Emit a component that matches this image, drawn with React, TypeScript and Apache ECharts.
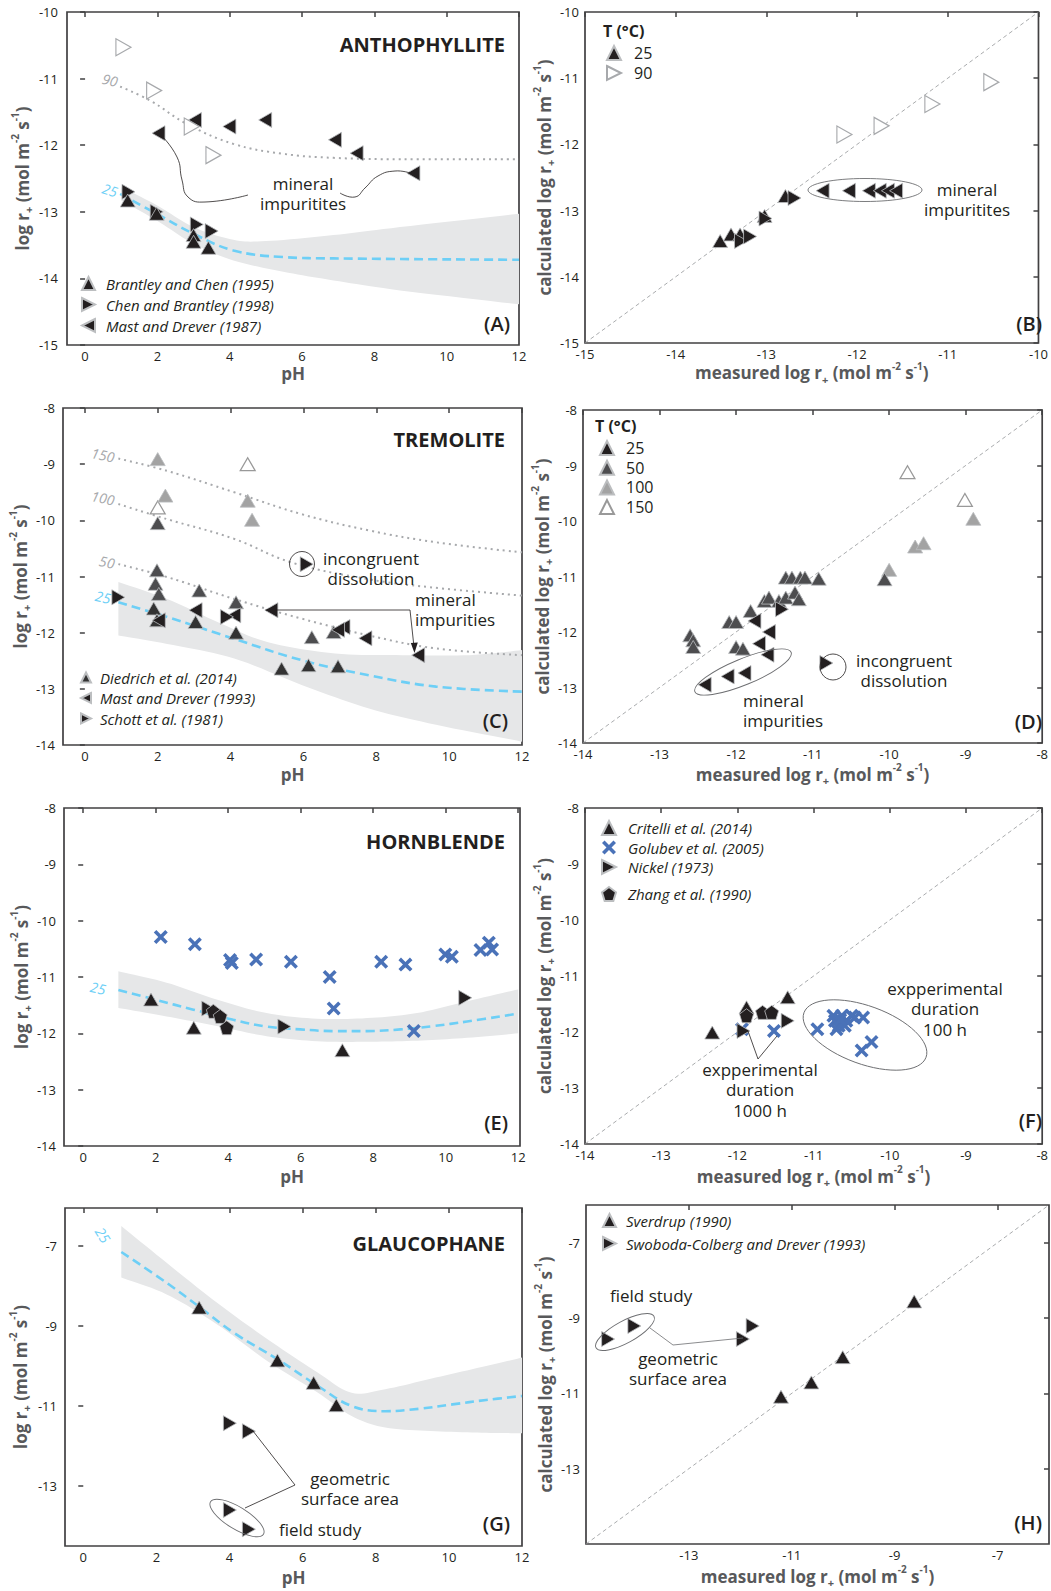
import React, { useEffect, useRef } from 'react';
import * as echarts from 'echarts';

const FONT = '"Open Sans", "Noto Sans", sans-serif';
const INK = '#231f20';
const TITLE_GREY = '#58595b';
const BLUE_LINE = '#6dcff6';
const DOT_GREY = '#a7a9ac';
const BAND = '#e6e7e8';
const DARK = '#4d4d4f';
const LIGHT = '#a3a3a3';
const XBLUE = '#4a72b8';
const HALO = '#bcbec0';
const FRAME = '#414042';

const SYM_UP = 'path://M5,0L10,10L0,10Z';
const SYM_RIGHT = 'path://M0,0L10,5L0,10Z';
const SYM_LEFT = 'path://M10,0L0,5L10,10Z';
const SYM_PENT = 'path://M5,0L10,3.8L8.1,10L1.9,10L0,3.8Z';
const SYM_X = 'path://M0,1.8L1.8,0L5,3.2L8.2,0L10,1.8L6.8,5L10,8.2L8.2,10L5,6.8L1.8,10L0,8.2L3.2,5Z';

// ---- tick values ----
const PH_TICKS = [0, 2, 4, 6, 8, 10, 12];
const A_YT = [-15, -14, -13, -12, -11, -10];
const B_T = [-15, -14, -13, -12, -11, -10];
const CE_YT = [-14, -13, -12, -11, -10, -9, -8];
const DF_T = [-14, -13, -12, -11, -10, -9, -8];
const G_YT = [-13, -11, -9, -7];
const H_T = [-13, -11, -9, -7];

// ---- (A) anthophyllite ----
const A_brantley = [[1.18, -12.83], [1.98, -13.03], [3.0, -13.35], [3.0, -13.45], [3.41, -13.54]];
const A_chen = [[1.2, -12.7], [1.98, -13.0], [3.09, -13.19], [3.5, -13.29]];
const A_mast = [[2.03, -11.82], [3.04, -11.62], [3.99, -11.72], [4.98, -11.62], [6.91, -11.92], [7.51, -12.12], [9.08, -12.42]];
const A_90 = [[1.06, -10.53], [1.91, -11.18], [2.95, -11.72], [3.55, -12.15]];
const A_line90 = [[0.97, -11.12], [1.8, -11.33], [2.81, -11.68], [4.1, -11.98], [5.48, -12.13], [6.87, -12.19], [8.71, -12.21], [12, -12.21]];
const A_line25 = [[0.97, -12.73], [1.98, -13.03], [3.0, -13.33], [4.1, -13.58], [5.48, -13.68], [6.87, -13.7], [12, -13.72]];
const A_bandUp = [[1, -12.63], [1.98, -12.9], [3.0, -13.23], [4.1, -13.42], [5.0, -13.44], [6.87, -13.35], [8.71, -13.23], [12, -13.03]];
const A_bandLo = [[1, -12.83], [1.98, -13.13], [3.0, -13.48], [4.1, -13.73], [5.48, -13.9], [6.87, -14.03], [8.71, -14.18], [12, -14.39]];

// ---- (B) ----
const B_up = [[-13.51, -13.46], [-13.39, -13.36], [-13.29, -13.36], [-13.02, -13.08], [-12.79, -12.78]];
const B_right = [[-13.28, -13.46], [-13.18, -13.39], [-13.01, -13.12], [-12.69, -12.81]];
const B_left = [[-12.38, -12.7], [-12.09, -12.7], [-11.87, -12.7], [-11.75, -12.7], [-11.66, -12.7], [-11.57, -12.7]];
const B_90 = [[-12.14, -11.85], [-11.73, -11.72], [-11.17, -11.39], [-10.52, -11.06]];
const B_diag = [[-15, -15], [-10, -10]];

// ---- (C) tremolite ----
const C_d150 = [[4.47, -9.0], [2.0, -9.77]];
const C_d100 = [[2.0, -8.91], [2.21, -9.56], [4.47, -9.65], [4.59, -9.99]];
const C_d50 = [[2.0, -10.05], [1.98, -10.89], [1.94, -11.13], [2.03, -11.31], [3.14, -11.25], [4.15, -11.46], [6.83, -11.99], [6.23, -12.08]];
const C_d25 = [[1.89, -11.57], [1.98, -11.78], [3.04, -11.81], [4.15, -12.0], [5.4, -12.64], [6.14, -12.58], [6.95, -12.6]];
const C_mast = [[2.03, -11.78], [3.04, -11.6], [4.1, -11.69], [5.12, -11.6], [7.1, -11.9], [6.95, -11.95], [7.7, -12.1], [9.15, -12.4]];
const C_schott = [[0.92, -11.37], [6.09, -10.78], [3.9, -11.72]];
const C_line150 = [[0.92, -8.9], [2.26, -9.12], [4.1, -9.5], [5.95, -9.89], [7.8, -10.18], [9.64, -10.39], [12, -10.57]];
const C_line100 = [[0.92, -9.71], [2.26, -9.98], [4.1, -10.33], [5.67, -10.75], [7.8, -11.05], [9.46, -11.19], [12, -11.34]];
const C_line50 = [[0.92, -10.78], [2.26, -11.01], [4.1, -11.4], [5.95, -11.75], [7.8, -12.05], [9.64, -12.28], [12, -12.4]];
const C_line25 = [[0.92, -11.46], [2.26, -11.72], [4.1, -12.11], [5.95, -12.49], [7.8, -12.76], [9.64, -12.96], [12, -13.05]];
const C_bandUp = [[0.92, -11.1], [2.26, -11.4], [3.64, -11.81], [5.03, -12.17], [6.87, -12.37], [8.72, -12.4], [10.56, -12.4], [12, -12.31]];
const C_bandLo = [[0.92, -12.05], [2.26, -12.2], [4.1, -12.46], [5.95, -12.93], [7.8, -13.35], [9.64, -13.64], [12, -13.94]];

// ---- (D) ----
const D_150 = [[-9.76, -9.12], [-9.01, -9.62]];
const D_100 = [[-10.0, -10.88], [-9.66, -10.46], [-9.55, -10.4], [-8.9, -9.96]];
const D_50 = [[-11.35, -11.02], [-11.27, -11.02], [-11.16, -11.02], [-11.1, -11.02], [-10.92, -11.04], [-11.63, -11.44], [-11.57, -11.38], [-11.44, -11.44], [-11.35, -11.38], [-11.23, -11.29], [-11.18, -11.41], [-11.81, -11.62], [-12.09, -11.82], [-12.0, -11.82], [-12.6, -12.06], [-12.56, -12.15], [-12.56, -12.27], [-12.0, -12.27], [-11.91, -12.3], [-10.06, -11.05]];
const D_25left = [[-11.57, -12.0], [-11.7, -12.21], [-11.59, -12.41], [-11.89, -12.74], [-12.11, -12.8], [-12.41, -12.95], [-11.76, -11.8]];
const D_25right = [[-11.4, -11.59], [-10.82, -12.56]];
const DF_diag = [[-14, -14], [-8, -8]];

// ---- (E) hornblende ----
const E_golubev = [[2.14, -10.29], [3.08, -10.42], [4.05, -10.7], [4.1, -10.75], [4.77, -10.69], [5.73, -10.73], [6.8, -11.0], [6.91, -11.56], [8.22, -10.73], [8.89, -10.78], [9.99, -10.6], [10.17, -10.64], [10.96, -10.52], [11.19, -10.39], [11.28, -10.51], [9.12, -11.96]];
const E_critelli = [[1.87, -11.4], [3.05, -11.9], [7.15, -12.3]];
const E_nickel = [[3.45, -11.56], [5.55, -11.88], [10.54, -11.37]];
const E_zhang = [[3.59, -11.61], [3.78, -11.7], [3.96, -11.9]];
const E_line25 = [[0.97, -11.23], [1.98, -11.4], [3.04, -11.58], [4.14, -11.76], [5.06, -11.88], [5.99, -11.93], [6.9, -11.96], [7.83, -11.96], [8.75, -11.93], [9.67, -11.87], [10.59, -11.79], [12, -11.65]];
const E_bandUp = [[0.97, -10.9], [2.3, -11.1], [3.68, -11.4], [5.06, -11.64], [6.45, -11.74], [7.83, -11.73], [9.21, -11.64], [10.59, -11.43], [12, -11.22]];
const E_bandLo = [[0.97, -11.55], [2.3, -11.7], [3.68, -11.87], [5.06, -12.05], [6.45, -12.14], [7.83, -12.15], [9.21, -12.13], [10.59, -12.08], [12, -12.0]];

// ---- (F) ----
const F_critelli = [[-12.33, -12.01], [-11.34, -11.38], [-11.88, -11.56]];
const F_golubev = [[-11.94, -11.95], [-11.52, -11.98], [-10.95, -11.95], [-10.72, -11.8], [-10.63, -11.71], [-10.67, -11.89], [-10.57, -11.8], [-10.5, -11.71], [-10.46, -11.74], [-10.35, -11.74], [-10.74, -11.71], [-10.59, -11.89], [-10.37, -12.33], [-10.24, -12.18], [-10.7, -11.95], [-10.65, -11.78]];
const F_nickel = [[-11.92, -11.98], [-11.34, -11.8]];
const F_zhang = [[-11.88, -11.71], [-11.67, -11.65], [-11.55, -11.65]];

// ---- (G) glaucophane ----
const G_sverdrup = [[3.17, -8.54], [5.31, -9.86], [6.3, -10.42], [6.92, -10.98]];
const G_swoboda = [[4.01, -11.43], [4.53, -11.63], [4.01, -13.6], [4.53, -14.08]];
const G_line25 = [[1.04, -7.15], [2.28, -7.92], [3.2, -8.54], [4.12, -9.17], [5.31, -9.83], [6.42, -10.5], [7.34, -11.0], [8.26, -11.13], [9.18, -11.07], [10.1, -10.96], [11.02, -10.85], [12, -10.75]];
const G_bandUp = [[1.04, -6.5], [2.28, -7.42], [3.66, -8.42], [5.04, -9.33], [6.42, -10.17], [7.34, -10.67], [8.26, -10.58], [9.64, -10.29], [11.02, -10.0], [12, -9.79]];
const G_bandLo = [[1.04, -7.79], [2.28, -8.21], [3.66, -8.96], [5.04, -9.88], [6.42, -10.67], [7.34, -11.25], [8.26, -11.54], [9.64, -11.63], [11.02, -11.67], [12, -11.68]];

// ---- (H) ----
const H_sverdrup = [[-11.21, -11.09], [-10.62, -10.71], [-10.01, -10.04], [-8.62, -8.56]];
const H_swoboda = [[-14.57, -9.56], [-14.06, -9.21], [-11.95, -9.56], [-11.76, -9.21]];
const H_diag = [[-15, -15], [-6, -6]];

// ---- axis titles (rich text) ----
const RATE = '{t|log r}{sb|+}{t| (mol m}{sp|-2}{t| s}{sp|-1}{t|)}';
const XMEAS = '{t|measured log r}{sb|+}{t| (mol m}{sp|-2}{t| s}{sp|-1}{t|)}';
const YCALC = '{t|calculated log r}{sb|+}{t| (mol m}{sp|-2}{t| s}{sp|-1}{t|)}';
const PH = '{t|pH}';

const RICH = {
  t: { fontSize: 17, fontWeight: 'bold', fontFamily: FONT, color: TITLE_GREY, lineHeight: 24 },
  sb: { fontSize: 11, fontWeight: 'bold', fontFamily: FONT, color: TITLE_GREY, lineHeight: 11, verticalAlign: 'bottom' },
  sp: { fontSize: 10, fontWeight: 'bold', fontFamily: FONT, color: TITLE_GREY, lineHeight: 10, verticalAlign: 'top' },
};

const panels = [
  { rect: [67, 12, 452, 333], x: [-0.5, 12], y: [-15, -10], xt: PH_TICKS, yt: A_YT, xn: PH, yn: RATE, xGap: 16, yGap: 33, lm: 9 },
  { rect: [585, 12, 464, 331], x: [-15, -10], y: [-15, -10], xt: B_T, yt: B_T, xn: XMEAS, yn: YCALC, xGap: 17, yGap: 23, lm: 6 },
  { rect: [63, 408, 459, 337], x: [-0.6, 12], y: [-14, -8], xt: PH_TICKS, yt: CE_YT, xn: PH, yn: RATE, xGap: 17, yGap: 30, lm: 8 },
  { rect: [583, 410, 466, 333], x: [-14, -8], y: [-14, -8], xt: DF_T, yt: DF_T, xn: XMEAS, yn: YCALC, xGap: 19, yGap: 22, lm: 6 },
  { rect: [64, 808, 456, 338], x: [-0.53, 12.05], y: [-14, -8], xt: PH_TICKS, yt: CE_YT, xn: PH, yn: RATE, xGap: 18, yGap: 31, lm: 8 },
  { rect: [585, 808, 464, 336], x: [-14, -8], y: [-14, -8], xt: DF_T, yt: DF_T, xn: XMEAS, yn: YCALC, xGap: 20, yGap: 25, lm: 6 },
  { rect: [65, 1208, 457, 338], x: [-0.5, 12], y: [-14.5, -6.05], xt: PH_TICKS, yt: G_YT, xn: PH, yn: RATE, xGap: 19, yGap: 33, lm: 8 },
  { rect: [586, 1205, 463, 339], x: [-15, -6], y: [-15, -6], xt: H_T, yt: H_T, xn: XMEAS, yn: YCALC, xGap: 20, yGap: 26, lm: 6 },
];

function catmull(pts: number[][], seg = 10) {
  const out: number[][] = [];
  for (let i = 0; i < pts.length - 1; i++) {
    const p0 = pts[Math.max(0, i - 1)], p1 = pts[i], p2 = pts[i + 1], p3 = pts[Math.min(pts.length - 1, i + 2)];
    for (let s = 0; s < seg; s++) {
      const t = s / seg, t2 = t * t, t3 = t2 * t;
      out.push([0, 1].map((k) => 0.5 * (2 * p1[k] + (-p0[k] + p2[k]) * t + (2 * p0[k] - 5 * p1[k] + 4 * p2[k] - p3[k]) * t2 + (-p0[k] + 3 * p1[k] - 3 * p2[k] + p3[k]) * t3)));
    }
  }
  out.push(pts[pts.length - 1]);
  return out;
}

const sc = (name: string, data: number[][], gi: number, symbol: string, size: any, color: string, border = HALO, bw = 0.8) => ({
  type: 'scatter', name, data, xAxisIndex: gi, yAxisIndex: gi, symbol, symbolSize: size,
  itemStyle: { color, borderColor: border, borderWidth: bw, opacity: 1 }, z: 5, silent: true,
});
const ln = (data: number[][], gi: number, color: string, type: any, width: number) => ({
  type: 'line', data, xAxisIndex: gi, yAxisIndex: gi, smooth: 0.4, showSymbol: false, symbol: 'none',
  lineStyle: { color, type, width }, z: 3, silent: true,
});
const diag = (data: number[][], gi: number) => ({
  type: 'line', data, xAxisIndex: gi, yAxisIndex: gi, showSymbol: false, symbol: 'none',
  lineStyle: { color: '#939598', type: [4, 3], width: 0.8 }, z: 2, silent: true,
});
const band = (up: number[][], lo: number[][], gi: number) => ({
  type: 'custom', xAxisIndex: gi, yAxisIndex: gi, data: [up[0]], z: 1, silent: true,
  renderItem: (_p: any, api: any) => {
    const u = catmull(up.map((p) => api.coord(p)));
    const l = catmull(lo.map((p) => api.coord(p))).reverse();
    return { type: 'polygon', shape: { points: [...u, ...l] }, style: { fill: BAND } };
  },
});

const txt = (text: string, x: number, y: number, o: any = {}) => ({
  type: 'text', x, y, rotation: o.rot || 0, silent: true, z: 50,
  style: {
    text, x: 0, y: 0, fill: o.color || INK,
    font: `${o.style || 'normal'} ${o.weight || 'normal'} ${o.size || 17}px ${FONT}`,
    align: o.align || 'left', verticalAlign: 'middle',
  },
});
// several lines stacked as separate texts
const lines = (arr: string[], x: number, y0: number, step: number, o: any = {}) => arr.map((s, k) => txt(s, x, y0 + k * step, o));
const ell = (cx: number, cy: number, rx: number, ry: number, rot = 0) => ({
  type: 'ellipse', x: cx, y: cy, rotation: rot, silent: true, z: 40,
  shape: { cx: 0, cy: 0, rx, ry }, style: { fill: 'none', stroke: '#6d6e71', lineWidth: 0.9 },
});
const seg = (x1: number, y1: number, x2: number, y2: number) => ({
  type: 'line', silent: true, z: 40, shape: { x1, y1, x2, y2 }, style: { stroke: INK, lineWidth: 0.8 },
});
const curve = (points: number[][]) => ({
  type: 'polyline', silent: true, z: 40, shape: { points, smooth: 0.5 }, style: { stroke: INK, lineWidth: 0.8, fill: null },
});
const head = (points: number[][]) => ({ type: 'polygon', silent: true, z: 40, shape: { points }, style: { fill: INK } });

function buildOption() {
  const grid = panels.map((p) => ({
    left: p.rect[0], top: p.rect[1], width: p.rect[2], height: p.rect[3],
    show: true, borderColor: FRAME, borderWidth: 1.7, backgroundColor: 'transparent',
  }));
  const xAxis: any[] = [];
  const yAxis: any[] = [];
  panels.forEach((p, i) => {
    xAxis.push({
      type: 'value', gridIndex: i, min: p.x[0], max: p.x[1], position: 'bottom',
      axisLine: { show: false }, splitLine: { show: false }, axisTick: { show: false },
      axisLabel: { customValues: p.xt, color: INK, fontSize: 13, fontFamily: FONT, margin: 4, lineHeight: 13 },
      name: p.xn, nameLocation: 'middle', nameGap: p.xGap, nameTextStyle: { rich: RICH },
    });
    yAxis.push({
      type: 'value', gridIndex: i, min: p.y[0], max: p.y[1], position: 'left',
      axisLine: { show: false }, splitLine: { show: false }, axisTick: { show: false },
      axisLabel: { customValues: p.yt, color: INK, fontSize: 13, fontFamily: FONT, margin: p.lm, lineHeight: 13 },
      name: p.yn, nameLocation: 'middle', nameGap: p.yGap, nameTextStyle: { rich: RICH },
    });
  });
  panels.forEach((p, i) => {
    xAxis.push({
      type: 'value', gridIndex: i, min: p.x[0], max: p.x[1], position: 'top',
      axisLine: { show: false }, splitLine: { show: false }, axisLabel: { show: false },
      axisTick: { show: true, inside: true, length: 5, customValues: p.xt, lineStyle: { color: FRAME, width: 1.5 } },
    });
    yAxis.push({
      type: 'value', gridIndex: i, min: p.y[0], max: p.y[1], position: 'right',
      axisLine: { show: false }, splitLine: { show: false }, axisLabel: { show: false },
      axisTick: { show: true, inside: true, length: 5, customValues: p.yt, lineStyle: { color: FRAME, width: 1.5 } },
    });
  });

  const UP = [15, 13];
  const SIDE = [13, 15];
  const series: any[] = [
    // A
    band(A_bandUp, A_bandLo, 0),
    ln(A_line90, 0, DOT_GREY, [2, 4], 2),
    ln(A_line25, 0, BLUE_LINE, [9, 5], 2.6),
    sc('A 90', A_90, 0, SYM_RIGHT, [15, 17], '#ffffff', DOT_GREY, 1.2),
    sc('Mast and Drever (1987)', A_mast, 0, SYM_LEFT, SIDE, INK),
    sc('Chen and Brantley (1998)', A_chen, 0, SYM_RIGHT, SIDE, INK),
    sc('Brantley and Chen (1995)', A_brantley, 0, SYM_UP, UP, INK),
    // B
    diag(B_diag, 1),
    sc('90', B_90, 1, SYM_RIGHT, [15, 17], '#ffffff', DOT_GREY, 1.2),
    sc('B left', B_left, 1, SYM_LEFT, SIDE, INK),
    sc('25', B_up, 1, SYM_UP, UP, INK),
    sc('B right', B_right, 1, SYM_RIGHT, SIDE, INK),
    // C
    band(C_bandUp, C_bandLo, 2),
    ln(C_line150, 2, DOT_GREY, [2, 4], 2),
    ln(C_line100, 2, DOT_GREY, [2, 4], 2),
    ln(C_line50, 2, DOT_GREY, [2, 4], 2),
    ln(C_line25, 2, BLUE_LINE, [9, 5], 2.6),
    sc('C150', C_d150, 2, SYM_UP, UP, '#ffffff', '#999999', 1.2),
    sc('C100', C_d100, 2, SYM_UP, UP, LIGHT),
    sc('C50', C_d50, 2, SYM_UP, UP, DARK),
    sc('Diedrich et al. (2014)', C_d25, 2, SYM_UP, UP, '#333333'),
    sc('Mast and Drever (1993)', C_mast, 2, SYM_LEFT, SIDE, INK),
    sc('Schott et al. (1981)', C_schott, 2, SYM_RIGHT, SIDE, INK),
    // D
    diag(DF_diag, 3),
    sc('150', D_150, 3, SYM_UP, UP, '#ffffff', '#999999', 1.2),
    sc('100', D_100, 3, SYM_UP, UP, LIGHT),
    sc('50', D_50, 3, SYM_UP, UP, DARK),
    sc('25 ', D_25left, 3, SYM_LEFT, SIDE, INK),
    sc('D25 right', D_25right, 3, SYM_RIGHT, SIDE, INK),
    // E
    band(E_bandUp, E_bandLo, 4),
    ln(E_line25, 4, BLUE_LINE, [9, 5], 2.6),
    sc('E Golubev', E_golubev, 4, SYM_X, 14, XBLUE, XBLUE, 0),
    sc('E Critelli', E_critelli, 4, SYM_UP, UP, INK),
    sc('E Nickel', E_nickel, 4, SYM_RIGHT, SIDE, INK),
    sc('E Zhang', E_zhang, 4, SYM_PENT, 14, INK),
    // F
    diag(DF_diag, 5),
    sc('Critelli et al. (2014)', F_critelli, 5, SYM_UP, UP, INK),
    sc('Golubev et al. (2005)', F_golubev, 5, SYM_X, 14, XBLUE, XBLUE, 0),
    sc('Nickel (1973)', F_nickel, 5, SYM_RIGHT, SIDE, INK),
    sc('Zhang et al. (1990)', F_zhang, 5, SYM_PENT, 14, INK),
    // G
    band(G_bandUp, G_bandLo, 6),
    ln(G_line25, 6, BLUE_LINE, [9, 5], 2.6),
    sc('G Sverdrup', G_sverdrup, 6, SYM_UP, UP, INK),
    sc('G Swoboda', G_swoboda, 6, SYM_RIGHT, SIDE, INK),
    // H
    diag(H_diag, 7),
    sc('Sverdrup (1990)', H_sverdrup, 7, SYM_UP, UP, INK),
    sc('Swoboda-Colberg and Drever (1993)', H_swoboda, 7, SYM_RIGHT, SIDE, INK),
  ];

  const lg = (data: any[], left: number, top: number, iw: number, gap: number, pad: number, italic = true, size = 15) => ({
    orient: 'vertical', selectedMode: false, left, top, padding: 0, itemWidth: iw, itemHeight: iw, itemGap: gap,
    textStyle: { fontFamily: FONT, fontSize: size, fontStyle: italic ? 'italic' : 'normal', color: INK, lineHeight: 14, padding: [0, 0, 0, pad] },
    data,
  });
  const legend = [
    lg(['Brantley and Chen (1995)', 'Chen and Brantley (1998)', 'Mast and Drever (1987)'], 81, 276, 13, 6, 6),
    lg(['25', '90'], 606, 45, 14, 4, 8, false, 16),
    lg(['Diedrich et al. (2014)', 'Mast and Drever (1993)', 'Schott et al. (1981)'], 80, 670, 10, 5.5, 4),
    lg([{ name: '25 ', icon: SYM_UP }, '50', '100', '150'], 599, 440, 14, 3.7, 7, false, 16),
    lg(['Critelli et al. (2014)', 'Golubev et al. (2005)', 'Nickel (1973)'], 601, 820, 14, 4, 7),
    lg(['Zhang et al. (1990)'], 601, 886, 14, 4, 7),
    lg(['Sverdrup (1990)', 'Swoboda-Colberg and Drever (1993)'], 602, 1213, 13, 8, 5),
  ];

  const B = { weight: 'bold', size: 20, align: 'right' };
  const L = { weight: '600', size: 20, align: 'right' };
  const graphic = [
    // A
    txt('ANTHOPHYLLITE', 505, 44, B),
    txt('(A)', 510, 323, L),
    txt('90', 110, 80, { style: 'italic', size: 14, color: DOT_GREY, align: 'center', rot: -0.25 }),
    txt('25', 110, 190, { style: 'italic', size: 14, color: BLUE_LINE, align: 'center', rot: -0.3 }),
    ...lines(['mineral', 'impuritites'], 303, 183, 20.5, { align: 'center' }),
    curve([[160, 134], [177, 157], [182, 180], [188, 197], [205, 202], [248, 195]]),
    curve([[340, 193], [355, 197], [365, 188], [378, 176], [395, 171], [410, 173]]),
    // B
    txt('T (°C)', 603, 31, { weight: 'bold', size: 16 }),
    ell(865, 190, 57, 11.5),
    ...lines(['mineral', 'impuritites'], 967, 189, 20.5, { align: 'center' }),
    txt('(B)', 1042, 323, L),
    // C
    txt('TREMOLITE', 505, 439, B),
    txt('(C)', 508, 720, L),
    txt('150', 103, 455, { style: 'italic', size: 14, color: DOT_GREY, align: 'center', rot: -0.2 }),
    txt('100', 103, 498, { style: 'italic', size: 14, color: DOT_GREY, align: 'center', rot: -0.2 }),
    txt('50', 107, 562, { style: 'italic', size: 14, color: DOT_GREY, align: 'center', rot: -0.2 }),
    txt('25', 103, 597, { style: 'italic', size: 14, color: BLUE_LINE, align: 'center', rot: -0.2 }),
    { type: 'circle', silent: true, z: 40, shape: { cx: 302, cy: 564, r: 12.5 }, style: { fill: 'none', stroke: INK, lineWidth: 0.8 } },
    ...lines(['incongruent', 'dissolution'], 371, 558, 20.5, { align: 'center' }),
    ...lines(['mineral', 'impurities'], 415, 599, 20.5, { align: 'left' }),
    seg(410, 610, 270, 610),
    head([[265, 610], [275, 606.5], [275, 613.5]]),
    seg(410, 610, 414, 647),
    head([[414.5, 653], [410.8, 643], [417.8, 642.5]]),
    // D
    txt('T (°C)', 595, 426, { weight: 'bold', size: 16 }),
    ell(743, 672, 52, 13, 0.39),
    { type: 'circle', silent: true, z: 40, shape: { cx: 833, cy: 667, r: 13 }, style: { fill: 'none', stroke: INK, lineWidth: 0.8 } },
    ...lines(['incongruent', 'dissolution'], 904, 660, 20.5, { align: 'center' }),
    ...lines(['mineral', 'impurities'], 743, 700, 20.5, { align: 'left' }),
    txt('(D)', 1042, 721, L),
    // E
    txt('HORNBLENDE', 505, 841, B),
    txt('(E)', 508, 1122, L),
    txt('25', 98, 988, { style: 'italic', size: 14, color: BLUE_LINE, align: 'center', rot: -0.2 }),
    // F
    ell(865, 1035, 65, 29, -0.35),
    ...lines(['expperimental', 'duration', '100 h'], 945, 988, 20.5, { align: 'center' }),
    ...lines(['expperimental', 'duration', '1000 h'], 760, 1069, 20.5, { align: 'center' }),
    seg(758, 1059, 748, 1031),
    seg(758, 1059, 777, 1036),
    txt('(F)', 1042, 1120, L),
    // G
    txt('GLAUCOPHANE', 505, 1243, B),
    txt('(G)', 510, 1523, L),
    txt('25', 103, 1235, { style: 'italic', size: 14, color: BLUE_LINE, align: 'center', rot: -1.0 }),
    ...lines(['geometric', 'surface area'], 350, 1478, 20.5, { align: 'center' }),
    txt('field study', 279, 1529, { align: 'left' }),
    ell(237, 1518, 31, 11, -0.55),
    seg(295, 1485, 253, 1431),
    seg(295, 1485, 245, 1508),
    // H
    ell(625, 1332, 33, 11, 0.5),
    txt('field study', 610, 1295, { align: 'left' }),
    ...lines(['geometric', 'surface area'], 678, 1358, 20.5, { align: 'center' }),
    { type: 'polyline', silent: true, z: 40, shape: { points: [[650, 1328], [673, 1345], [743, 1338]] }, style: { stroke: '#6d6e71', lineWidth: 0.8, fill: null } },
    txt('(H)', 1042, 1522, L),
  ];

  return {
    animation: false,
    backgroundColor: '#ffffff',
    textStyle: { fontFamily: FONT },
    grid, xAxis, yAxis, series, legend, graphic,
  };
}

export default function App() {
  const ref = useRef<HTMLDivElement>(null);
  useEffect(() => {
    const chart = echarts.init(ref.current as HTMLDivElement, null, { renderer: 'svg' });
    chart.setOption(buildOption() as any);
    return () => chart.dispose();
  }, []);
  return <div ref={ref} style={{ position: 'absolute', left: 0, top: 0, width: 1051, height: 1591, background: '#fff' }} />;
}
